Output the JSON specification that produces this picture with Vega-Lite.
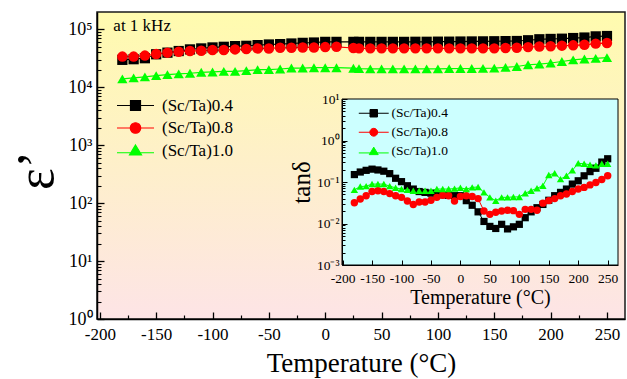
{
  "$schema": "https://vega.github.io/schema/vega-lite/v6.json",
  "width": 528,
  "height": 307,
  "autosize": "none",
  "padding": {"left": 97, "top": 12, "right": 2, "bottom": 60},
  "background": "white",
  "view": {"fill": {"gradient": "linear", "x1": 0, "y1": 0, "x2": 0, "y2": 1, "stops": [{"offset": 0, "color": "#fffbae"}, {"offset": 1, "color": "#fde4e6"}]}, "stroke": "#1a1a1a", "strokeWidth": 1.5},
  "datasets": {
    "main": [
      {"T": -180, "s04": 29854, "s08": 33963, "s10": 14028},
      {"T": -170, "s04": 30620, "s08": 33963, "s10": 14588},
      {"T": -160, "s04": 31842, "s08": 35318, "s10": 15171},
      {"T": -150, "s04": 37239, "s08": 37670, "s10": 15959},
      {"T": -140, "s04": 39719, "s08": 39719, "s10": 16596},
      {"T": -130, "s04": 42364, "s08": 41305, "s10": 17061},
      {"T": -120, "s04": 45186, "s08": 42364, "s10": 17498},
      {"T": -110, "s04": 46989, "s08": 42954, "s10": 18197},
      {"T": -100, "s04": 48865, "s08": 44055, "s10": 18450},
      {"T": -90, "s04": 50119, "s08": 44055, "s10": 18880},
      {"T": -80, "s04": 51523, "s08": 45186, "s10": 18880},
      {"T": -70, "s04": 52119, "s08": 45814, "s10": 19409},
      {"T": -60, "s04": 53580, "s08": 46989, "s10": 20184},
      {"T": -50, "s04": 54954, "s08": 46989, "s10": 20184},
      {"T": -40, "s04": 55719, "s08": 48306, "s10": 20749},
      {"T": -30, "s04": 57148, "s08": 48306, "s10": 21528},
      {"T": -20, "s04": 58614, "s08": 48865, "s10": 21528},
      {"T": -10, "s04": 59429, "s08": 48865, "s10": 21827},
      {"T": 0, "s04": 60954, "s08": 49545, "s10": 21827},
      {"T": 10, "s04": 60954, "s08": 50119, "s10": 21827},
      {"T": 25, "s04": 60954, "s08": 47800, "s10": 21400},
      {"T": 30, "s04": 60954, "s08": 47098, "s10": 21000},
      {"T": 40, "s04": 60954, "s08": 47098, "s10": 20893},
      {"T": 50, "s04": 60954, "s08": 47098, "s10": 20893},
      {"T": 60, "s04": 60954, "s08": 47098, "s10": 20893},
      {"T": 70, "s04": 60954, "s08": 47098, "s10": 20893},
      {"T": 80, "s04": 61200, "s08": 47098, "s10": 20893},
      {"T": 90, "s04": 61200, "s08": 47098, "s10": 20893},
      {"T": 100, "s04": 61500, "s08": 47098, "s10": 20893},
      {"T": 110, "s04": 61500, "s08": 47098, "s10": 21000},
      {"T": 120, "s04": 61800, "s08": 47098, "s10": 21135},
      {"T": 130, "s04": 62000, "s08": 47098, "s10": 21135},
      {"T": 140, "s04": 62200, "s08": 47098, "s10": 21300},
      {"T": 150, "s04": 62500, "s08": 47098, "s10": 21500},
      {"T": 160, "s04": 62800, "s08": 47800, "s10": 22131},
      {"T": 170, "s04": 63096, "s08": 48417, "s10": 22909},
      {"T": 180, "s04": 65000, "s08": 49500, "s10": 24547},
      {"T": 190, "s04": 67608, "s08": 50699, "s10": 25119},
      {"T": 200, "s04": 68500, "s08": 51286, "s10": 26303},
      {"T": 210, "s04": 69183, "s08": 52481, "s10": 27925},
      {"T": 220, "s04": 71000, "s08": 53088, "s10": 29854},
      {"T": 230, "s04": 72444, "s08": 54325, "s10": 30903},
      {"T": 240, "s04": 75858, "s08": 56885, "s10": 31623},
      {"T": 250, "s04": 76913, "s08": 58210, "s10": 32659}
    ],
    "inset": [
      {"T": -180, "s04": 0.151, "s08": 0.0316, "s10": 0.0646},
      {"T": -170, "s04": 0.174, "s08": 0.0389, "s10": 0.0776},
      {"T": -160, "s04": 0.191, "s08": 0.0468, "s10": 0.0794},
      {"T": -150, "s04": 0.204, "s08": 0.0589, "s10": 0.0891},
      {"T": -140, "s04": 0.195, "s08": 0.0617, "s10": 0.0891},
      {"T": -130, "s04": 0.182, "s08": 0.0589, "s10": 0.0891},
      {"T": -120, "s04": 0.159, "s08": 0.0525, "s10": 0.0794},
      {"T": -110, "s04": 0.123, "s08": 0.0468, "s10": 0.0724},
      {"T": -100, "s04": 0.102, "s08": 0.0427, "s10": 0.0676},
      {"T": -90, "s04": 0.0813, "s08": 0.0347, "s10": 0.0646},
      {"T": -80, "s04": 0.0676, "s08": 0.0288, "s10": 0.0617},
      {"T": -70, "s04": 0.0589, "s08": 0.0331, "s10": 0.0617},
      {"T": -60, "s04": 0.0562, "s08": 0.0331, "s10": 0.0617},
      {"T": -50, "s04": 0.0537, "s08": 0.0363, "s10": 0.0617},
      {"T": -40, "s04": 0.0513, "s08": 0.0427, "s10": 0.0676},
      {"T": -30, "s04": 0.049, "s08": 0.0479, "s10": 0.0676},
      {"T": -20, "s04": 0.0479, "s08": 0.0468, "s10": 0.0676},
      {"T": -10, "s04": 0.0468, "s08": 0.0347, "s10": 0.0692},
      {"T": 0, "s04": 0.0468, "s08": 0.0447, "s10": 0.0724},
      {"T": 10, "s04": 0.0355, "s08": 0.0468, "s10": 0.0676},
      {"T": 20, "s04": 0.0275, "s08": 0.0447, "s10": 0.0741},
      {"T": 30, "s04": 0.0191, "s08": 0.0398, "s10": 0.0759},
      {"T": 40, "s04": 0.0112, "s08": 0.02, "s10": 0.0562},
      {"T": 50, "s04": 0.00851, "s08": 0.0166, "s10": 0.0427},
      {"T": 60, "s04": 0.00759, "s08": 0.0186, "s10": 0.0355},
      {"T": 70, "s04": 0.00955, "s08": 0.02, "s10": 0.0427},
      {"T": 80, "s04": 0.00741, "s08": 0.0209, "s10": 0.0427},
      {"T": 90, "s04": 0.00832, "s08": 0.0204, "s10": 0.0437},
      {"T": 100, "s04": 0.00955, "s08": 0.0166, "s10": 0.0437},
      {"T": 110, "s04": 0.0138, "s08": 0.0219, "s10": 0.0537},
      {"T": 120, "s04": 0.0191, "s08": 0.0219, "s10": 0.0617},
      {"T": 130, "s04": 0.024, "s08": 0.0209, "s10": 0.0708},
      {"T": 140, "s04": 0.0288, "s08": 0.0309, "s10": 0.0813},
      {"T": 150, "s04": 0.0363, "s08": 0.0355, "s10": 0.148},
      {"T": 160, "s04": 0.0468, "s08": 0.0398, "s10": 0.162},
      {"T": 170, "s04": 0.0562, "s08": 0.0468, "s10": 0.1175},
      {"T": 180, "s04": 0.0676, "s08": 0.0513, "s10": 0.141},
      {"T": 190, "s04": 0.0891, "s08": 0.0589, "s10": 0.191},
      {"T": 200, "s04": 0.107, "s08": 0.0676, "s10": 0.282},
      {"T": 210, "s04": 0.141, "s08": 0.0741, "s10": 0.275},
      {"T": 220, "s04": 0.178, "s08": 0.0851, "s10": 0.26},
      {"T": 230, "s04": 0.214, "s08": 0.0977, "s10": 0.251},
      {"T": 240, "s04": 0.302, "s08": 0.1148, "s10": 0.275},
      {"T": 250, "s04": 0.363, "s08": 0.1413, "s10": 0.275}
    ]
  },
  "layer": [
    {
      "data": {"name": "main"},
      "layer": [
        {
          "transform": [{"fold": ["s04", "s08", "s10"], "as": ["series", "value"]}],
          "mark": {"type": "line", "strokeWidth": 1.2},
          "encoding": {
            "x": {"field": "T", "type": "quantitative", "scale": {"domain": [-202.5, 266], "nice": false, "zero": false},
              "axis": {"orient": "bottom", "values": [-200, -150, -100, -50, 0, 50, 100, 150, 200, 250], "labelExpr": "datum.value < 0 ? '-' + abs(datum.value) : '' + datum.value", "tickSize": -7, "tickWidth": 1.3, "labelPadding": 14, "labelFont": "Liberation Serif", "labelFontSize": 17, "domainWidth": 1.5, "title": "Temperature (°C)", "titleFont": "Liberation Serif", "titleFontSize": 27, "titlePadding": 8, "zindex": 1}},
            "y": {"field": "value", "type": "quantitative", "scale": {"type": "log", "domain": [1, 200000], "nice": false},
              "axis": {"orient": "left", "values": [1, 10, 100, 1000, 10000, 100000], "labelExpr": "'10' + ['⁰','¹','²','³','⁴','⁵'][round(log(datum.value)/LN10)]", "tickSize": -7, "tickWidth": 1.3, "labelPadding": 12, "labelFont": "Liberation Serif", "labelFontSize": 18, "domainWidth": 1.5, "title": "ε’", "titleFont": "Liberation Serif", "titleFontSize": 52, "titlePadding": 4, "titleY": 158, "zindex": 1}},
            "color": {"field": "series", "type": "nominal", "scale": {"domain": ["s04", "s08", "s10"], "range": ["#000000", "#ff0000", "#00ff00"]}}
          }
        },
        {
          "transform": [{"fold": ["s04", "s08", "s10"], "as": ["series", "value"]}, {"filter": {"field": "series", "equal": "s04"}}],
          "mark": {"type": "point", "shape": "square", "filled": true, "opacity": 1, "size": 105, "strokeWidth": 0},
          "encoding": {
            "x": {"field": "T", "type": "quantitative", "scale": {"domain": [-202.5, 266], "nice": false, "zero": false},
              "axis": {"orient": "bottom", "values": [-175, -125, -75, -25, 25, 75, 125, 175, 225], "tickSize": -4, "tickWidth": 1.2, "labels": false, "domain": false, "title": null, "zindex": 1}},
            "y": {"field": "value", "type": "quantitative", "scale": {"type": "log", "domain": [1, 200000], "nice": false},
              "axis": {"orient": "left", "values": [2, 3, 4, 5, 6, 7, 8, 9, 20, 30, 40, 50, 60, 70, 80, 90, 200, 300, 400, 500, 600, 700, 800, 900, 2000, 3000, 4000, 5000, 6000, 7000, 8000, 9000, 20000, 30000, 40000, 50000, 60000, 70000, 80000, 90000], "tickSize": -4, "tickWidth": 1.1, "labels": false, "domain": false, "title": null, "zindex": 1}},
            "color": {"field": "series", "type": "nominal", "scale": {"domain": ["s04", "s08", "s10"], "range": ["#000000", "#ff0000", "#00ff00"]}}
          }
        },
        {
          "transform": [{"fold": ["s04", "s08", "s10"], "as": ["series", "value"]}, {"filter": {"field": "series", "equal": "s08"}}],
          "mark": {"type": "point", "shape": "circle", "filled": true, "opacity": 1, "size": 110, "strokeWidth": 0},
          "encoding": {
            "x": {"field": "T", "type": "quantitative", "scale": {"domain": [-202.5, 266], "nice": false, "zero": false}, "axis": null},
            "y": {"field": "value", "type": "quantitative", "scale": {"type": "log", "domain": [1, 200000], "nice": false}, "axis": null},
            "color": {"field": "series", "type": "nominal", "scale": {"domain": ["s04", "s08", "s10"], "range": ["#000000", "#ff0000", "#00ff00"]}}
          }
        },
        {
          "transform": [{"fold": ["s04", "s08", "s10"], "as": ["series", "value"]}, {"filter": {"field": "series", "equal": "s10"}}],
          "mark": {"type": "point", "shape": "triangle-up", "filled": true, "opacity": 1, "size": 105, "strokeWidth": 0},
          "encoding": {
            "x": {"field": "T", "type": "quantitative", "scale": {"domain": [-202.5, 266], "nice": false, "zero": false}, "axis": null},
            "y": {"field": "value", "type": "quantitative", "scale": {"type": "log", "domain": [1, 200000], "nice": false}, "axis": null},
            "color": {"field": "series", "type": "nominal", "scale": {"domain": ["s04", "s08", "s10"], "range": ["#000000", "#ff0000", "#00ff00"]}}
          }
        },
        {
          "transform": [{"fold": ["s04", "s08", "s10"], "as": ["series", "value"]}, {"filter": {"field": "T", "gt": 1000}}],
          "mark": {"type": "point", "filled": true, "opacity": 1, "size": 100},
          "encoding": {
            "x": {"field": "T", "type": "quantitative", "scale": {"domain": [-202.5, 266], "nice": false, "zero": false}, "axis": null},
            "y": {"field": "value", "type": "quantitative", "scale": {"type": "log", "domain": [1, 200000], "nice": false}, "axis": null},
            "color": {"field": "series", "type": "nominal", "scale": {"domain": ["s04", "s08", "s10"], "range": ["#000000", "#ff0000", "#00ff00"]}},
            "shape": {"field": "series", "type": "nominal",
              "scale": {"domain": ["s04", "s08", "s10"], "range": ["M-3.7,0H3.7M-1,-1H1V1H-1Z", "M-3.7,0H3.7M1.05,0A1.05,1.05,0,1,1,-1.05,0A1.05,1.05,0,1,1,1.05,0Z", "M-3.7,0.45H3.7M0,-1.1L1.2,0.9H-1.2Z"]},
              "legend": {"orient": "none", "legendX": 30, "legendY": 85, "title": null, "padding": 0, "symbolSize": 100, "symbolStrokeWidth": 1.2, "symbolOpacity": 1, "labelFontSize": 17, "labelFont": "Liberation Serif", "labelColor": "black", "labelOffset": 18, "rowPadding": 4.5,
                "labelExpr": "datum.label == 's04' ? '(Sc/Ta)0.4' : datum.label == 's08' ? '(Sc/Ta)0.8' : '(Sc/Ta)1.0'"}}
          }
        },
        {
          "data": {"values": [{"T": -188, "v": 94000, "note": "at 1 kHz"}]},
          "mark": {"type": "text", "align": "left", "baseline": "alphabetic", "fontSize": 17, "font": "Liberation Serif", "color": "black"},
          "encoding": {
            "x": {"field": "T", "type": "quantitative", "scale": {"domain": [-202.5, 266], "nice": false, "zero": false}, "axis": null},
            "y": {"field": "v", "type": "quantitative", "scale": {"type": "log", "domain": [1, 200000], "nice": false}, "axis": null},
            "text": {"field": "note"}
          }
        }
      ],
      "resolve": {"axis": {"x": "independent", "y": "independent"}}
    },
    {
      "layer": [
        {
          "data": {"values": [{"x1": -201, "x2": 267.5, "y1": 0.001, "y2": 10}]},
          "mark": {"type": "rect", "fill": "#ccffff", "stroke": "black", "strokeWidth": 1},
          "encoding": {
            "x": {"field": "x1", "type": "quantitative", "scale": {"domain": [-201, 267.5], "range": [245, 521], "nice": false, "zero": false},
              "axis": {"orient": "bottom", "offset": -54, "values": [-200, -150, -100, -50, 0, 50, 100, 150, 200, 250], "labelExpr": "datum.value < 0 ? '-' + abs(datum.value) : '' + datum.value", "tickSize": -5, "tickWidth": 1, "labelPadding": 11, "labelFont": "Liberation Serif", "labelFontSize": 13.5, "domainWidth": 1, "title": "Temperature (°C)", "titleFont": "Liberation Serif", "titleFontSize": 20, "titlePadding": 3, "zindex": 1}},
            "x2": {"field": "x2"},
            "y": {"field": "y1", "type": "quantitative", "scale": {"type": "log", "domain": [0.001, 10], "range": [253, 87], "nice": false},
              "axis": {"orient": "left", "offset": -245, "values": [0.001, 0.01, 0.1, 1, 10], "labelExpr": "'10' + ['⁻³','⁻²','⁻¹','⁰','¹'][round(log(datum.value)/LN10)+3]", "tickSize": -5, "tickWidth": 1, "labelPadding": 8, "labelFont": "Liberation Serif", "labelFontSize": 13.5, "domainWidth": 1, "title": "tanδ", "titleFont": "Liberation Serif", "titleFontSize": 25, "titlePadding": 2, "zindex": 1}},
            "y2": {"field": "y2"}
          }
        },
        {
          "data": {"name": "inset"},
          "transform": [{"fold": ["s04", "s08", "s10"], "as": ["series", "value"]}],
          "mark": {"type": "line", "strokeWidth": 1},
          "encoding": {
            "x": {"field": "T", "type": "quantitative", "scale": {"domain": [-201, 267.5], "range": [245, 521], "nice": false, "zero": false}, "axis": null},
            "y": {"field": "value", "type": "quantitative", "scale": {"type": "log", "domain": [0.001, 10], "range": [253, 87], "nice": false}, "axis": null},
            "color": {"field": "series", "type": "nominal", "scale": {"domain": ["s04", "s08", "s10"], "range": ["#000000", "#ff0000", "#00ff00"]}}
          }
        },
        {
          "data": {"name": "inset"},
          "transform": [{"fold": ["s04", "s08", "s10"], "as": ["series", "value"]}, {"filter": {"field": "series", "equal": "s04"}}],
          "mark": {"type": "point", "shape": "square", "filled": true, "opacity": 1, "size": 52, "strokeWidth": 0},
          "encoding": {
            "x": {"field": "T", "type": "quantitative", "scale": {"domain": [-201, 267.5], "range": [245, 521], "nice": false, "zero": false}, "axis": null},
            "y": {"field": "value", "type": "quantitative", "scale": {"type": "log", "domain": [0.001, 10], "range": [253, 87], "nice": false},
              "axis": {"orient": "left", "offset": -245, "values": [0.002, 0.003, 0.004, 0.005, 0.006, 0.007, 0.008, 0.009, 0.02, 0.03, 0.04, 0.05, 0.06, 0.07, 0.08, 0.09, 0.2, 0.3, 0.4, 0.5, 0.6, 0.7, 0.8, 0.9, 2, 3, 4, 5, 6, 7, 8, 9], "tickSize": -3, "tickWidth": 1, "labels": false, "domain": false, "title": null, "zindex": 1}},
            "color": {"field": "series", "type": "nominal", "scale": {"domain": ["s04", "s08", "s10"], "range": ["#000000", "#ff0000", "#00ff00"]}}
          }
        },
        {
          "data": {"name": "inset"},
          "transform": [{"fold": ["s04", "s08", "s10"], "as": ["series", "value"]}, {"filter": {"field": "series", "equal": "s08"}}],
          "mark": {"type": "point", "shape": "circle", "filled": true, "opacity": 1, "size": 55, "strokeWidth": 0},
          "encoding": {
            "x": {"field": "T", "type": "quantitative", "scale": {"domain": [-201, 267.5], "range": [245, 521], "nice": false, "zero": false}, "axis": null},
            "y": {"field": "value", "type": "quantitative", "scale": {"type": "log", "domain": [0.001, 10], "range": [253, 87], "nice": false}, "axis": null},
            "color": {"field": "series", "type": "nominal", "scale": {"domain": ["s04", "s08", "s10"], "range": ["#000000", "#ff0000", "#00ff00"]}}
          }
        },
        {
          "data": {"name": "inset"},
          "transform": [{"fold": ["s04", "s08", "s10"], "as": ["series", "value"]}, {"filter": {"field": "series", "equal": "s10"}}],
          "mark": {"type": "point", "shape": "triangle-up", "filled": true, "opacity": 1, "size": 55, "strokeWidth": 0},
          "encoding": {
            "x": {"field": "T", "type": "quantitative", "scale": {"domain": [-201, 267.5], "range": [245, 521], "nice": false, "zero": false}, "axis": null},
            "y": {"field": "value", "type": "quantitative", "scale": {"type": "log", "domain": [0.001, 10], "range": [253, 87], "nice": false}, "axis": null},
            "color": {"field": "series", "type": "nominal", "scale": {"domain": ["s04", "s08", "s10"], "range": ["#000000", "#ff0000", "#00ff00"]}}
          }
        },
        {
          "data": {"name": "inset"},
          "transform": [{"fold": ["s04", "s08", "s10"], "as": ["series", "value"]}, {"filter": {"field": "T", "gt": 1000}}],
          "mark": {"type": "point", "filled": true, "opacity": 1, "size": 56},
          "encoding": {
            "x": {"field": "T", "type": "quantitative", "scale": {"domain": [-201, 267.5], "range": [245, 521], "nice": false, "zero": false}, "axis": null},
            "y": {"field": "value", "type": "quantitative", "scale": {"type": "log", "domain": [0.001, 10], "range": [253, 87], "nice": false}, "axis": null},
            "color": {"field": "series", "type": "nominal", "scale": {"domain": ["s04", "s08", "s10"], "range": ["#000000", "#ff0000", "#00ff00"]}},
            "shape": {"field": "series", "type": "nominal",
              "scale": {"domain": ["s04", "s08", "s10"], "range": ["M-4,0H4M-1,-1H1V1H-1Z", "M-4,0H4M1.05,0A1.05,1.05,0,1,1,-1.05,0A1.05,1.05,0,1,1,1.05,0Z", "M-4,0.45H4M0,-1.1L1.2,0.9H-1.2Z"]},
              "legend": {"orient": "none", "legendX": 270, "legendY": 94.5, "title": null, "padding": 0, "symbolSize": 56, "symbolStrokeWidth": 1, "symbolOpacity": 1, "labelFontSize": 13.5, "labelFont": "Liberation Serif", "labelColor": "black", "labelOffset": 11, "rowPadding": 4,
                "labelExpr": "datum.label == 's04' ? '(Sc/Ta)0.4' : datum.label == 's08' ? '(Sc/Ta)0.8' : '(Sc/Ta)1.0'"}}
          }
        }
      ],
      "resolve": {"axis": {"x": "independent", "y": "independent"}}
    }
  ],
  "resolve": {
    "scale": {"x": "independent", "y": "independent", "color": "independent", "shape": "independent"},
    "axis": {"x": "independent", "y": "independent"},
    "legend": {"shape": "independent", "color": "independent"}
  },
  "config": {
    "font": "Liberation Serif",
    "axis": {"grid": false, "labelFont": "Liberation Serif", "titleFont": "Liberation Serif", "labelColor": "black", "titleColor": "black", "domainColor": "black", "tickColor": "black", "titleFontWeight": "normal", "labelFlush": false, "labelOverlap": false, "labelBound": false},
    "legend": {"labelFont": "Liberation Serif", "labelColor": "black"}
  }
}
